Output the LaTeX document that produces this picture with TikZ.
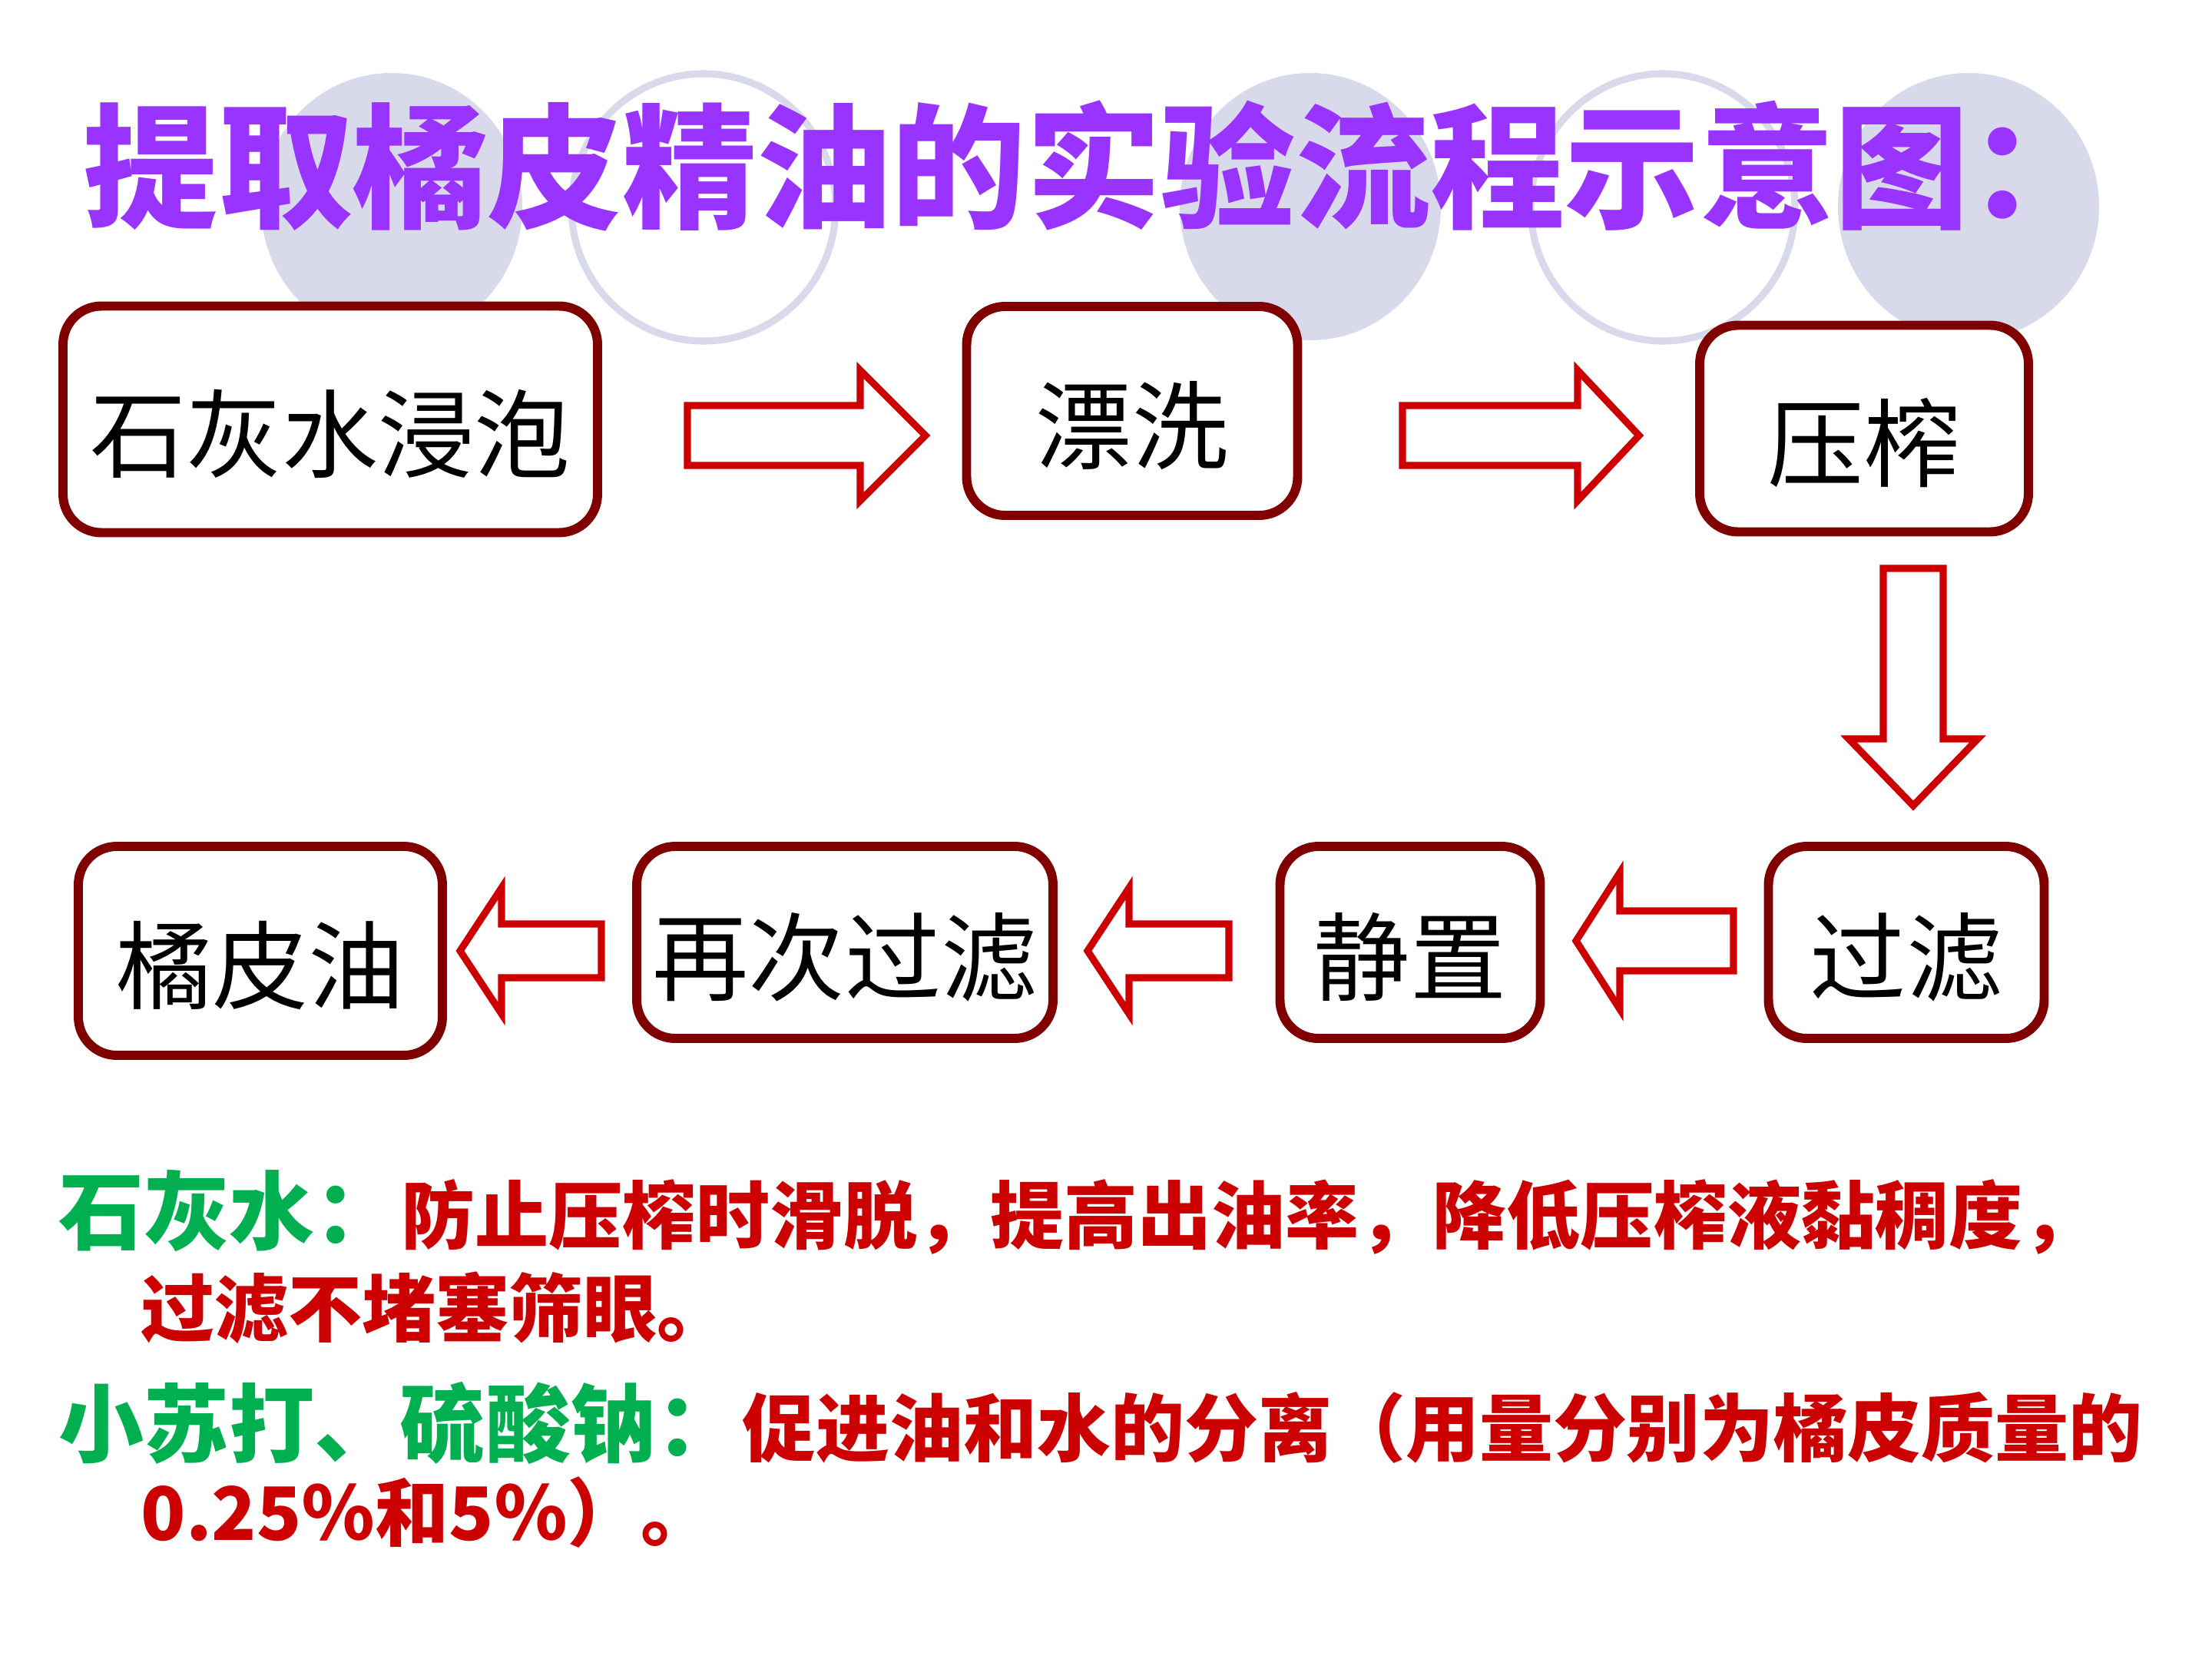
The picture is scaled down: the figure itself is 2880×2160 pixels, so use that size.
\documentclass[tikz,border=0pt]{standalone}
\usepackage{fontspec}
\usepackage{tikz}
\usetikzlibrary{calc}
\newfontfamily\cjk{Noto Sans CJK SC}
\definecolor{boxred}{RGB}{128,0,0}
\definecolor{arrred}{RGB}{204,0,0}
\definecolor{ttlpurple}{RGB}{153,51,255}
\definecolor{notegreen}{RGB}{0,176,80}
\definecolor{lav}{RGB}{217,217,236}
\newcommand{\ttlfont}{\cjk\bfseries\fontsize{49.9pt}{60pt}\selectfont}
\newcommand{\boxfont}{\cjk\fontsize{35.6pt}{42pt}\selectfont}
\newcommand{\grnfont}{\cjk\bfseries\fontsize{31.6pt}{38pt}\selectfont}
\newcommand{\redfont}{\cjk\bfseries\fontsize{27.3pt}{33pt}\selectfont}
\tikzset{
  pics/hollow/.style n args={4}{code={
    \draw[arw] (0,-#2) -- (#1-#4,-#2) -- (#1-#4,-#3) -- (#1,0)
      -- (#1-#4,#3) -- (#1-#4,#2) -- (0,#2) -- cycle;
  }}
}
\begin{document}
\begin{tikzpicture}[
  x=0.1mm, y=-0.1mm,
  bx/.style={draw=boxred, line width=3.4pt, rounded corners=5mm, fill=white,
             font=\boxfont, inner sep=0pt, text height=14.5mm, text depth=1.2mm},
  arw/.style={draw=arrred, line width=2.6pt, fill=white},
  ttl/.style={font=\ttlfont, text=ttlpurple, inner sep=0pt, anchor=base west},
  grn/.style={font=\grnfont, text=notegreen, inner sep=0pt, anchor=base west},
  rd/.style={font=\redfont, text=arrred, inner sep=0pt, anchor=base west},
  ring/.style={draw=lav, line width=2.6pt}
]
  \path[use as bounding box, fill=white] (0,0) rectangle (2880,2160);

  % background discs
  \fill[lav] (510,269) ellipse [x radius=170, y radius=174];
  \draw[ring] (916,270) ellipse [x radius=172, y radius=174];
  \fill[lav] (1706,269) ellipse [x radius=170, y radius=174];
  \draw[ring] (2165,270) ellipse [x radius=172, y radius=174];
  \fill[lav] (2563,269) ellipse [x radius=170, y radius=174];

  \node[ttl] (ttl) at (108,283) {提取橘皮精油的实验流程示意图：};

  \node[bx, minimum width=69.6mm, minimum height=29.5mm] (soak) at (430,546) {石灰水浸泡};
  \node[bx, minimum width=43.1mm, minimum height=27.2mm] (rinse) at (1474,535) {漂洗};
  \node[bx, minimum width=42.8mm, minimum height=26.9mm] (press) at (2427,558) {压榨};
  \node[bx, minimum width=35.9mm, minimum height=25mm] (filt) at (2482,1227) {过滤};
  \node[bx, minimum width=33.9mm, minimum height=25mm] (settle) at (1836,1227) {静置};
  \node[bx, minimum width=54.2mm, minimum height=25mm] (refilt) at (1100,1227) {再次过滤};
  \node[bx, minimum width=47.4mm, minimum height=27.2mm] (oil) at (339,1238) {橘皮油};

  \pic at (895,567) {hollow={310}{39}{85}{85}};
  \pic at (1826,567) {hollow={308}{39}{85}{80}};
  \pic[rotate=-90] at (2491,740) {hollow={309}{39}{84}{87}};
  \pic[rotate=180] at (2257,1225) {hollow={205}{39}{89}{57}};
  \pic[rotate=180] at (1600,1238) {hollow={184}{35}{82}{54}};
  \pic[rotate=180] at (783,1238) {hollow={184}{35}{82}{54}};

  \node[grn] (limeh) at (76,1618) {石灰水：};
  \node[rd] (lime1) at (limeh.base east) {防止压榨时滑脱，提高出油率，降低压榨液黏稠度，};
  \node[rd] (lime2) at (183,1739) {过滤不堵塞筛眼。};
  \node[grn] (sodah) at (76,1895) {小苏打、硫酸钠：};
  \node[rd] (soda1) at (sodah.base east) {促进油和水的分离（用量分别为橘皮质量的};
  \node[rd] (soda2) at (183,2005) {0.25％和5％）。};
\end{tikzpicture}
\end{document}
